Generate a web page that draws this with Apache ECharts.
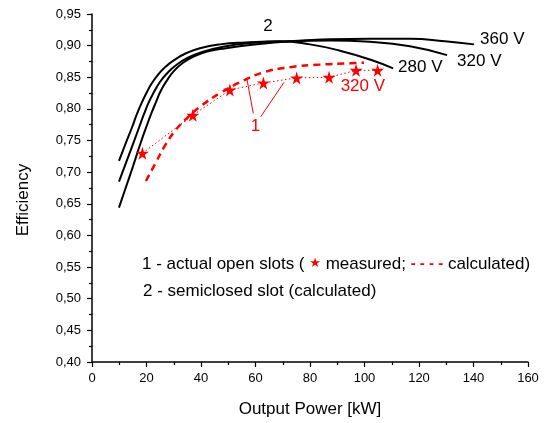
<!DOCTYPE html>
<html>
<head>
<meta charset="utf-8">
<script src="https://cdn.jsdelivr.net/npm/echarts@6/dist/echarts.min.js"></script>
<style>
	html, body { margin: 0; padding: 0; background: #fff; }
	#main { width: 547px; height: 423px; }
</style>
</head>
<body>
<div id="main"></div>
<script>
// semiclosed slot, calculated (black curves)
var p280 = [9.9, 12.5, 14.7, 16.5, 18.4, 20.2, 22.0, 24.2, 26.8, 30.1, 34.5, 39.6, 47.0, 56.2, 69.0, 80.0, 91.0, 102.0, 110.5];
var eff280 = [0.718, 0.747, 0.771, 0.792, 0.811, 0.827, 0.841, 0.854, 0.866, 0.877, 0.888, 0.896, 0.902, 0.905, 0.907, 0.902, 0.892, 0.878, 0.864];
var p320 = [9.9, 12.5, 15.1, 17.3, 19.1, 20.9, 22.8, 25.0, 27.5, 30.8, 35.2, 40.4, 47.7, 58.0, 72.7, 87.3, 102.0, 116.7, 130.3];
var eff320 = [0.685, 0.715, 0.745, 0.771, 0.792, 0.811, 0.827, 0.843, 0.856, 0.869, 0.881, 0.890, 0.898, 0.904, 0.907, 0.908, 0.906, 0.899, 0.885];
var p360 = [9.9, 12.5, 15.1, 17.6, 19.8, 21.7, 23.5, 25.3, 27.5, 30.1, 33.4, 37.4, 42.6, 49.2, 58.0, 72.7, 87.3, 102.0, 116.7, 129.5, 140.2];
var eff360 = [0.644, 0.677, 0.710, 0.743, 0.770, 0.792, 0.811, 0.829, 0.845, 0.860, 0.873, 0.883, 0.891, 0.896, 0.901, 0.907, 0.910, 0.911, 0.911, 0.907, 0.902];

// actual open slots, 320 V
var pCalc = [19.8, 23.5, 27.2, 30.8, 35.2, 40.4, 47.0, 54.3, 62.4, 72.7, 83.7, 94.7, 99.8];
var effCalc = [0.686, 0.716, 0.745, 0.767, 0.787, 0.806, 0.825, 0.842, 0.857, 0.866, 0.870, 0.872, 0.873];
var pMeas = [18.5, 37.0, 50.6, 62.9, 75.1, 87.0, 96.9, 104.8];
var effMeas = [0.730, 0.790, 0.830, 0.841, 0.849, 0.850, 0.861, 0.861];

var xTicks = [0, 160, 20];
var yTicks = [0.40, 0.95, 0.05];

function pairs(xs, ys) {
	var out = [];
	for (var i = 0; i < xs.length; i++) {
		out.push([xs[i], ys[i]]);
	}
	return out;
}

var FONT = 'Liberation Sans, Arial, sans-serif';
var RED = '#ff0000';
var STAR = 'path://M50,0 L61,35 L98,35 L68,57 L79,91 L50,70 L21,91 L32,57 L2,35 L39,35 Z';

function blackCurve(xs, ys, label, off) {
	return {
		type: 'line',
		data: pairs(xs, ys),
		smooth: 0.5,
		showSymbol: false,
		symbol: 'none',
		lineStyle: { color: '#000', width: 2 },
		endLabel: {
			show: true,
			formatter: label,
			color: '#000',
			fontSize: 17,
			fontFamily: FONT,
			distance: 5,
			offset: off
		},
		silent: true
	};
}

var chart = echarts.init(document.getElementById('main'));
chart.setOption({
	animation: false,
	backgroundColor: '#fff',
	grid: { left: 92, right: 19, top: 14, bottom: 57 },
	xAxis: {
		type: 'value',
		min: xTicks[0], max: xTicks[1], interval: xTicks[2],
		name: 'Output Power [kW]',
		nameLocation: 'middle',
		nameGap: 39,
		nameTextStyle: { color: '#000', fontSize: 17, fontFamily: FONT },
		axisLine: { show: true, lineStyle: { color: '#000', width: 1.5 } },
		axisTick: { show: true, length: 5, lineStyle: { color: '#000', width: 1.2 } },
		minorTick: { show: true, splitNumber: 2, length: 3, lineStyle: { color: '#000', width: 1.2 } },
		axisLabel: { color: '#000', fontSize: 13, fontFamily: FONT, margin: 10 },
		splitLine: { show: false }
	},
	yAxis: {
		type: 'value',
		min: yTicks[0], max: yTicks[1], interval: yTicks[2],
		axisLine: { show: true, lineStyle: { color: '#000', width: 1.5 } },
		axisTick: { show: true, length: 5, lineStyle: { color: '#000', width: 1.2 } },
		minorTick: { show: true, splitNumber: 2, length: 3, lineStyle: { color: '#000', width: 1.2 } },
		axisLabel: {
			color: '#000', fontSize: 13, fontFamily: FONT, margin: 11,
			formatter: function (v) { return v.toFixed(2).replace('.', ','); }
		},
		splitLine: { show: false }
	},
	graphic: [
		{
			type: 'text', x: 23, y: 200, rotation: Math.PI / 2,
			style: { text: 'Efficiency', fill: '#000', font: '17px ' + FONT, align: 'center', verticalAlign: 'middle' }
		},
		{
			type: 'text', x: 142, y: 264,
			style: {
				text: '1 - actual open slots ( {s|★} measured; {d|- - - -} calculated)',
				fill: '#000', font: '17px ' + FONT, verticalAlign: 'middle',
				rich: {
					s: { fill: RED, fontSize: 13, fontFamily: 'DejaVu Sans' },
					d: { fill: RED, fontSize: 15, fontWeight: 'bold', fontFamily: FONT }
				}
			}
		},
		{
			type: 'text', x: 143, y: 291,
			style: { text: '2 - semiclosed slot (calculated)', fill: '#000', font: '17px ' + FONT, verticalAlign: 'middle' }
		}
	],
	series: [
		blackCurve(p280, eff280, '280 V', [0, -1]),
		blackCurve(p320, eff320, '320 V', [5, 6]),
		(function () {
			var s = blackCurve(p360, eff360, '360 V', [1, -5]);
			// label "2"
			s.markPoint = {
				silent: true,
				symbol: 'circle', symbolSize: 0,
				label: { show: true, position: 'inside', color: '#000', fontSize: 17, fontFamily: FONT },
				data: [{ coord: [64.6, 0.930], value: '2' }]
			};
			return s;
		})(),
		{
			type: 'line',
			data: pairs(pCalc, effCalc),
			smooth: 0.5,
			showSymbol: false,
			symbol: 'none',
			lineStyle: { color: RED, width: 2.5, type: [7, 5] },
			silent: true
		},
		{
			type: 'line',
			data: pairs(pMeas, effMeas),
			symbol: STAR,
			symbolSize: 13,
			itemStyle: { color: RED },
			lineStyle: { color: RED, width: 1, type: [1.5, 2.5] },
			silent: true,
			markPoint: {
				silent: true,
				symbol: 'circle', symbolSize: 0,
				label: { show: true, position: 'inside', color: RED, fontSize: 17, fontFamily: FONT },
				data: [
					{ coord: [99.4, 0.836], value: '320 V' },
					{ coord: [60.0, 0.772], value: '1' }
				]
			},
			markLine: {
				silent: true,
				symbol: ['none', 'arrow'],
				symbolSize: [0, 8],
				label: { show: false },
				lineStyle: { color: RED, width: 1, type: 'solid' },
				data: [
					[{ coord: [59.2, 0.7927] }, { coord: [56.8, 0.8484] }],
					[{ coord: [61.9, 0.7875] }, { coord: [70.5, 0.8422] }]
				]
			}
		}
	]
});
</script>
</body>
</html>
